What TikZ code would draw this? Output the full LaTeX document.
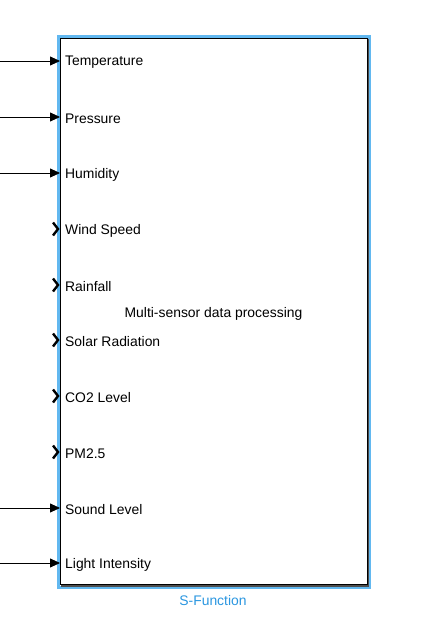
\documentclass[tikz,border=0pt]{standalone}
\usepackage{fontspec}
\setmainfont{Liberation Sans}
\usetikzlibrary{arrows.meta}
\definecolor{selblue}{HTML}{62B8F0}
\definecolor{lblblue}{HTML}{2A96E0}
\tikzset{
  lbl/.style={anchor=west, inner sep=0pt, font=\fontsize{13.9}{16}\selectfont},
  sig/.style={-{Triangle[length=10pt,width=9pt]}, line width=0.8pt},
  unport/.style={line width=2.4pt, line cap=butt, line join=miter}
}
\begin{document}
\begin{tikzpicture}[x=1pt,y=-1pt]
\useasboundingbox (0,0) rectangle (421,634);
% selection highlight
\draw[selblue, line width=3pt] (58,36.5) rectangle (369.5,587);
% shadow
\draw[black!70, line width=1.5pt] (368.5,39) -- (368.5,586) -- (61,586);
% block
\draw[black, line width=0.8pt, fill=white] (60,38) rectangle (367,584.5);
\node[anchor=center, inner sep=0pt, font=\fontsize{13.9}{16}\selectfont] (title) at (213.5,313.5) {Multi-sensor data processing};
\node[anchor=center, inner sep=0pt, text=lblblue, font=\fontsize{13.9}{16}\selectfont] (sf) at (213,600.5) {S-Function};
% ports
\foreach \n/\y/\t in {p1/61/Temperature, p2/117/Pressure, p3/173/Humidity, p4/229/Wind Speed, p5/285/Rainfall, p6/340/Solar Radiation, p7/396/CO2 Level, p8/452/PM2.5, p9/508/Sound Level, p10/563/Light Intensity}{
  \coordinate (\n) at (60,\y);
  \node[lbl] (\n l) at (65,\y+1.5) {\t};
}
\foreach \n in {p1,p2,p3,p9,p10}{
  \coordinate (\n s) at ([xshift=-60pt]\n);
  \draw[sig] (\n s) -- (\n);
}
\foreach \n in {p4,p5,p6,p7,p8}{
  \draw[unport] ([xshift=-7pt,yshift=-6.5pt]\n) -- ([xshift=-2pt]\n) -- ([xshift=-7pt,yshift=6.5pt]\n);
}
\end{tikzpicture}
\end{document}
